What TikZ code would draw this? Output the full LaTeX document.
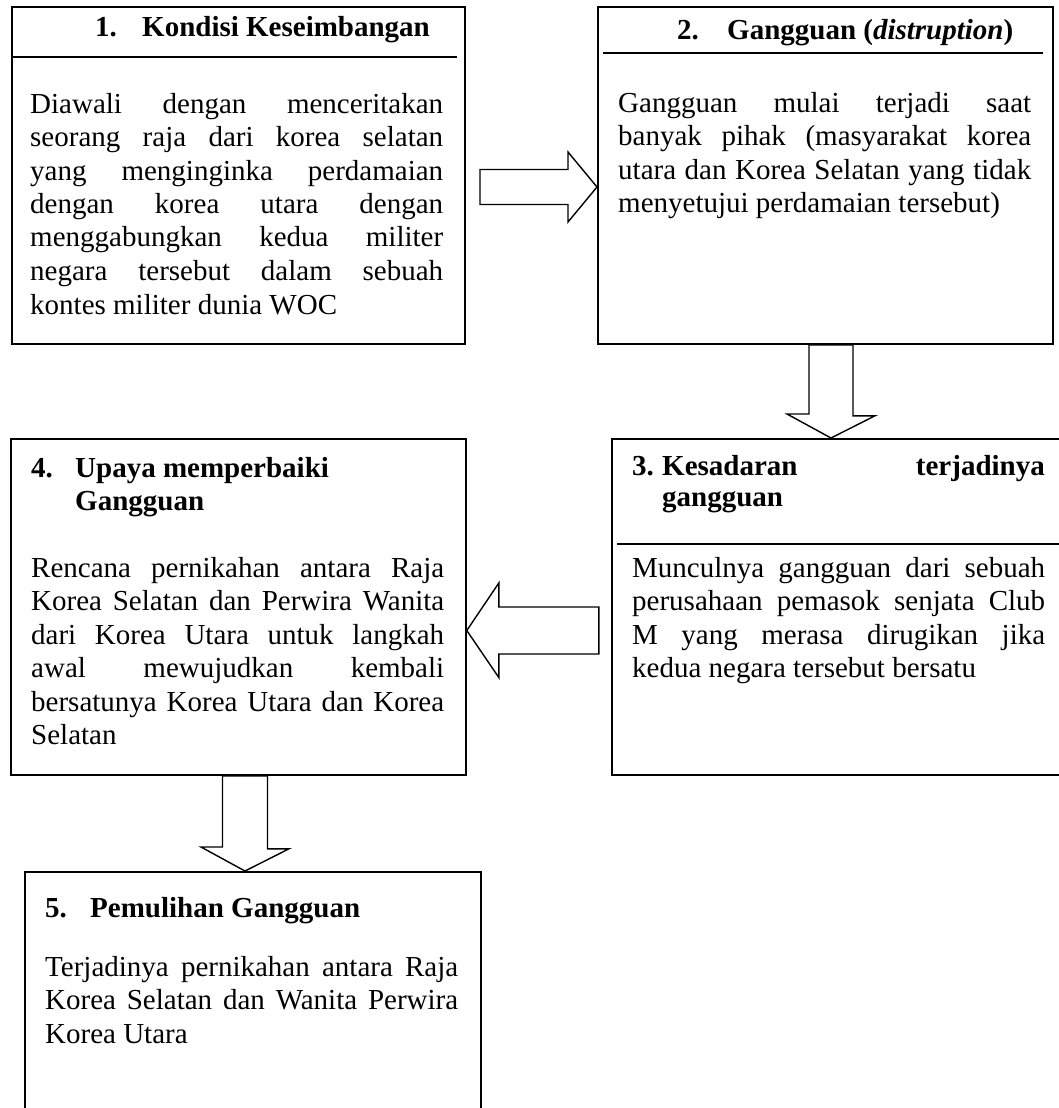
\documentclass[tikz,border=0pt]{standalone}
\usepackage{fontspec}
\setmainfont{Liberation Serif}
\usetikzlibrary{calc}
\tolerance=10000
\hbadness=10000
\hyphenpenalty=10000
\newcommand\bodysize{\fontsize{29}{33.5}\selectfont}
\tikzset{
  box/.style={draw=black, line width=1.8pt, fill=none, inner sep=0pt, anchor=north west},
  rule/.style={line width=1.8pt},
  blockarrow/.style={draw=black, line width=1.4pt, line join=miter, fill=white},
  head/.style={font=\bodysize\bfseries, inner sep=0pt, anchor=base west},
  body/.style={font=\bodysize, inner sep=0pt, anchor=base west, text width=413pt, align=justify}
}
\begin{document}
\begin{tikzpicture}[x=1pt,y=-1pt]
\useasboundingbox (0,0) rectangle (1059,1108);
% boxes
\node[box, minimum width=453pt, minimum height=337pt] (b1) at (11,6) {};
\node[box, minimum width=455pt, minimum height=337pt] (b2) at (597,6) {};
\node[box, minimum width=455pt, minimum height=336pt] (b3) at (611,438) {};
\node[box, minimum width=455pt, minimum height=336pt] (b4) at (10,438) {};
\node[box, minimum width=456pt, minimum height=270pt] (b5) at (24,871) {};
% header rules
\draw[rule] (b1.west |- 0,57) -- (457,57);
\draw[rule] (603,53) -- (1043,53);
\draw[rule] (617,544) -- (b3.east |- 0,544);
% headers
\node[head] (h1n) at (95,37) {1.};
\node[head] (h1) at (142,37) {Kondisi Keseimbangan};
\node[head] (h2n) at (677,40) {2.};
\node[head] (h2) at (727,40) {Gangguan (\textit{distruption})};
\node[head] (h3n) at (632,475) {3.};
\node[head] (h3a) at (662,475) {Kesadaran};
\node[head, anchor=base east] (h3b) at (1045,475) {terjadinya};
\node[head] (h3c) at (662,506) {gangguan};
\node[head] (h4n) at (31,477) {4.};
\node[head] (h4a) at (75,477) {Upaya memperbaiki};
\node[head] (h4b) at (75,510) {Gangguan};
\node[head] (h5n) at (45,917) {5.};
\node[head] (h5) at (90,917) {Pemulihan Gangguan};
% bodies
\node[body] (t1) at (30,113) {Diawali dengan menceritakan\linebreak
seorang raja dari korea selatan\linebreak
yang menginginka perdamaian\linebreak
dengan korea utara dengan\linebreak
menggabungkan kedua militer\linebreak
negara tersebut dalam sebuah\linebreak
kontes militer dunia WOC};
\node[body] (t2) at (618,112) {Gangguan mulai terjadi saat\linebreak
banyak pihak (masyarakat korea\linebreak
utara dan Korea Selatan yang tidak\linebreak
menyetujui perdamaian tersebut)};
\node[body] (t3) at (632,577) {Munculnya gangguan dari sebuah\linebreak
perusahaan pemasok senjata Club\linebreak
M yang merasa dirugikan jika\linebreak
kedua negara tersebut bersatu};
\node[body] (t4) at (31,577) {Rencana pernikahan antara Raja\linebreak
Korea Selatan dan Perwira Wanita\linebreak
dari Korea Utara untuk langkah\linebreak
awal mewujudkan kembali\linebreak
bersatunya Korea Utara dan Korea\linebreak
Selatan};
\node[body] (t5) at (45,976) {Terjadinya pernikahan antara Raja\linebreak
Korea Selatan dan Wanita Perwira\linebreak
Korea Utara};
% arrow tips on the boxes
\coordinate (a12) at (b2.west |- 0,187);
\coordinate (a23) at (b3.north -| 831,0);
\coordinate (a34) at (b4.east |- 0,630.5);
\coordinate (a45) at (b5.north -| 245,0);
% block arrows
\draw[blockarrow] (a12) -- ++(-29,-35) -- ++(0,17.5) -- ++(-88,0) -- ++(0,35) -- ++(88,0) -- ++(0,17.5) -- cycle;
\draw[blockarrow] (a23) -- ++(-44,-24) -- ++(22,0) -- (b2.south -| 809,0) -- (b2.south -| 853,0) -- ++(0,71) -- ++(22,0) -- cycle;
\draw[blockarrow] (a34) -- ++(32,-47.5) -- ++(0,24) -- ++(100,0) -- ++(0,47) -- ++(-100,0) -- ++(0,23.5) -- cycle;
\draw[blockarrow] (a45) -- ++(-44,-24) -- ++(21.5,0) -- (b4.south -| 222.5,0) -- (b4.south -| 267.5,0) -- ++(0,73) -- ++(21.5,0) -- cycle;
\end{tikzpicture}
\end{document}
